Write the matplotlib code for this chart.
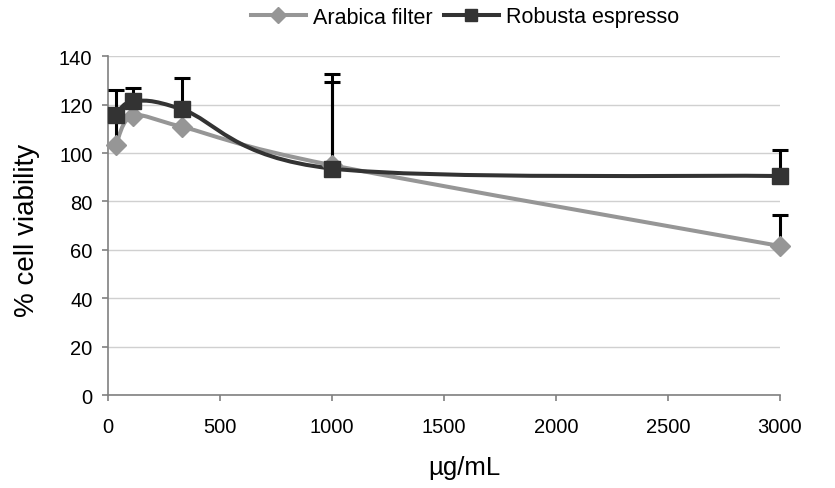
import numpy as np
import matplotlib.pyplot as plt
from matplotlib.path import Path
from matplotlib.patches import PathPatch

plt.rcParams['font.family'] = ['Liberation Sans', 'DejaVu Sans']

# data
conc = [37, 111, 333, 1000, 3000]
arabica = [103.5, 115.3, 110.8, 95.0, 61.6]
arabica_err = [13.0, 0.0, 0.0, 34.3, 12.8]
robusta = [115.6, 121.3, 118.0, 93.6, 90.5]
robusta_err = [10.6, 5.5, 12.8, 39.0, 10.8]


def smooth_path(x, y):
    # Excel-style smoothed line: bezier segments through each point
    pts = np.column_stack([x, y]).astype(float)
    n = len(pts)
    verts = [pts[0]]
    codes = [Path.MOVETO]
    for i in range(n - 1):
        p0 = pts[i - 1] if i > 0 else pts[i]
        p1 = pts[i]
        p2 = pts[i + 1]
        p3 = pts[i + 2] if i + 2 < n else pts[i + 1]
        verts += [p1 + (p2 - p0) / 6, p2 - (p3 - p1) / 6, p2]
        codes += [Path.CURVE4] * 3
    return Path(verts, codes)


fig = plt.figure(figsize=(8.35, 4.89), dpi=100)
ax = fig.add_axes([0.129, 0.19, 0.805, 0.693])

series = [
    ("Arabica filter", arabica, arabica_err, "#969696", "D", 10.5, 8),
    ("Robusta espresso", robusta, robusta_err, "#333333", "s", 11.5, 8),
]
for label, vals, err, col, mk, ms, lms in series:
    ax.add_patch(PathPatch(smooth_path(conc, vals), fill=False, edgecolor=col,
                           lw=2.9, zorder=3, capstyle='round'))
    x = np.array(conc)
    v = np.array(vals)
    e = np.array(err)
    keep = e > 0
    _, caps, bars = ax.errorbar(x[keep], v[keep], yerr=[np.zeros(keep.sum()), e[keep]],
                                fmt='none', ecolor='black', elinewidth=2.2,
                                capsize=5.8, capthick=2.2, zorder=4)
    for a in list(caps) + list(bars):
        a.set_clip_on(False)
    ax.plot(conc, vals, ls='none', marker=mk, ms=ms, color=col, zorder=5,
            clip_on=False)
    ax.plot([], [], color=col, lw=2.9, marker=mk, ms=lms, label=label)

ax.set_xlim(0, 3000)
ax.set_ylim(0, 140)
ax.set_xticks(np.arange(0, 3001, 500))
ax.set_yticks(np.arange(0, 141, 20))
ax.grid(axis='y', color='#d0d0d0', lw=1)
ax.set_axisbelow(True)
for s in ['top', 'right']:
    ax.spines[s].set_visible(False)
for s in ['left', 'bottom']:
    ax.spines[s].set_color('#808080')
    ax.spines[s].set_linewidth(1.2)
ax.tick_params(colors='#808080', labelcolor='black', labelsize=14.5, length=4,
               width=1.2)
ax.tick_params(axis='x', pad=12)
ax.tick_params(axis='y', pad=7)
ax.set_xlabel("µg/mL", fontsize=18.5, va='center')
ax.xaxis.set_label_coords(0.53, -0.212)
ax.set_ylabel("% cell viability", fontsize=20, va='center')
ax.yaxis.set_label_coords(-0.12, 0.49)

fig.legend(loc='center', bbox_to_anchor=(465 / 835, 1 - 18 / 489), ncol=2,
           frameon=False, fontsize=15.5, handlelength=2.55, columnspacing=0.5,
           handletextpad=0.35)

fig.savefig("out.png", dpi=100)
